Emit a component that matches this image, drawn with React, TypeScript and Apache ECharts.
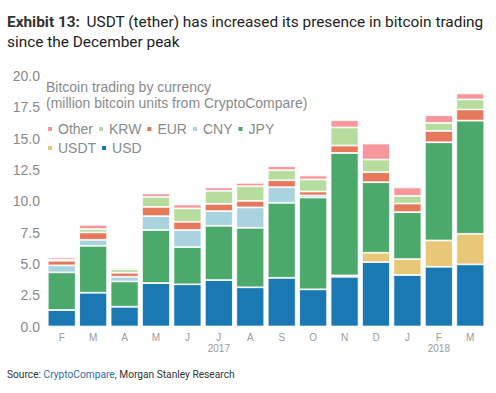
import React, { useEffect, useRef } from "react";
import * as echarts from "echarts";

const months = ["F", "M", "A", "M", "J", "J", "A", "S", "O", "N", "D", "J", "F", "M"];
const years = ["", "", "", "", "", "2017", "", "", "", "", "", "", "2018", ""];
const yTicks = [0, 2.5, 5, 7.5, 10, 12.5, 15, 17.5, 20];

const usd = [1.32, 2.7, 1.58, 3.47, 3.37, 3.71, 3.13, 3.89, 2.97, 3.97, 5.14, 4.11, 4.77, 4.96];
const usdt = [0, 0, 0, 0, 0, 0, 0, 0, 0, 0.11, 0.75, 1.27, 2.1, 2.44];
const jpy = [3.0, 3.74, 2.02, 4.23, 2.97, 4.33, 4.75, 5.98, 7.33, 9.78, 5.63, 3.75, 7.84, 9.04];
const cny = [0.56, 0.48, 0.37, 1.11, 1.36, 1.17, 1.63, 1.25, 0.16, 0, 0, 0, 0, 0];
const eur = [0.37, 0.59, 0.32, 0.74, 0.66, 0.58, 0.52, 0.56, 0.32, 0.59, 0.8, 0.69, 0.9, 0.89];
const krw = [0.09, 0.27, 0.27, 0.8, 1.07, 1.04, 1.17, 0.8, 0.96, 1.44, 1.01, 0.61, 0.64, 0.8];
const other = [0.18, 0.34, 0.11, 0.27, 0.31, 0.27, 0.27, 0.32, 0.32, 0.58, 1.28, 0.67, 0.62, 0.48];

const seriesDefs = [
  { name: "USD", data: usd, color: "#1a78b3" },
  { name: "USDT", data: usdt, color: "#e8c878" },
  { name: "JPY", data: jpy, color: "#4aa96b" },
  { name: "CNY", data: cny, color: "#a9d4df" },
  { name: "EUR", data: eur, color: "#e6795b" },
  { name: "KRW", data: krw, color: "#b6dd9d" },
  { name: "Other", data: other, color: "#f8979b" },
];

export default function App() {
  const ref = useRef<HTMLDivElement>(null);
  useEffect(() => {
    if (!ref.current) return;
    const chart = echarts.init(ref.current, null, { renderer: "svg" });
    const legendText = { color: "#8a8a8a", fontSize: 14, fontFamily: "Arial, Liberation Sans, sans-serif" };
    chart.setOption({
      animation: false,
      backgroundColor: "#fff",
      grid: { left: 46, right: 10, top: 76, bottom: 66.5 },
      legend: [
        {
          data: ["Other", "KRW", "EUR", "CNY", "JPY"],
          left: 46,
          top: 122,
          padding: 0,
          itemWidth: 6,
          itemHeight: 6,
          itemGap: 4,
          icon: "rect",
          textStyle: legendText,
        },
        {
          data: ["USDT", "USD"],
          left: 46,
          top: 141,
          padding: 0,
          itemWidth: 6,
          itemHeight: 6,
          itemGap: 4,
          icon: "rect",
          textStyle: legendText,
        },
      ],
      xAxis: {
        type: "category",
        data: months,
        axisLine: { show: false },
        axisTick: { show: false },
        axisLabel: {
          interval: 0,
          margin: 5,
          formatter: (v: string, i: number) => (years[i] ? `{m|${v}}\n{y|${years[i]}}` : `{m|${v}}`),
          rich: {
            m: { fontSize: 10, color: "#9a9a9a", lineHeight: 11, fontFamily: "Arial, Liberation Sans, sans-serif" },
            y: { fontSize: 10, color: "#9a9a9a", lineHeight: 12, fontFamily: "Arial, Liberation Sans, sans-serif" },
          },
        },
      },
      yAxis: {
        type: "value",
        min: yTicks[0],
        max: yTicks[yTicks.length - 1],
        interval: 2.5,
        splitLine: { show: false },
        axisLine: { show: false },
        axisTick: { show: false },
        axisLabel: {
          margin: 6,
          color: "#8a8a8a",
          fontSize: 14,
          fontFamily: "Arial, Liberation Sans, sans-serif",
          formatter: (v: number) => v.toFixed(1),
        },
      },
      series: seriesDefs.map((s) => ({
        name: s.name,
        type: "bar",
        stack: "total",
        data: s.data,
        barCategoryGap: "11%",
        itemStyle: { color: s.color, borderColor: "#fff", borderWidth: 0.8 },
      })),
      graphic: [
        {
          type: "text",
          left: 7,
          top: 14,
          style: {
            text: "{b|Exhibit 13:}  {r|USDT (tether) has increased its presence in bitcoin trading}\n{r|since the December peak}",
            rich: {
              b: { fontSize: 15.4, fontWeight: "bold", fill: "#333", fontFamily: "Roboto, Arial, sans-serif", lineHeight: 20 },
              r: { fontSize: 15.4, fill: "#222", fontFamily: "Roboto, Arial, sans-serif", lineHeight: 20 },
            },
          },
        },
        {
          type: "text",
          left: 46,
          top: 79,
          style: {
            text: "Bitcoin trading by currency\n(million bitcoin units from CryptoCompare)",
            fill: "#8a8a8a",
            fontSize: 14,
            lineHeight: 16,
            fontFamily: "Arial, Liberation Sans, sans-serif",
          },
        },
        {
          type: "text",
          left: 7,
          top: 369,
          style: {
            text: "{k|Source: }{l|CryptoCompare}{k|, Morgan Stanley Research}",
            rich: {
              k: { fontSize: 10.2, fill: "#333", fontFamily: "Roboto, Arial, sans-serif" },
              l: { fontSize: 10.2, fill: "#2f6fa8", fontFamily: "Roboto, Arial, sans-serif" },
            },
          },
        },
      ],
    });
    return () => chart.dispose();
  }, []);
  return <div ref={ref} style={{ position: "fixed", left: 0, top: 0, width: 496, height: 393 }} />;
}
